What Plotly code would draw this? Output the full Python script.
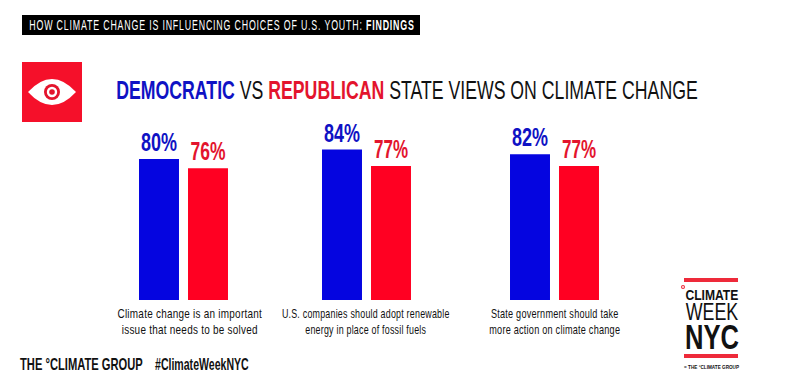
import json
import plotly.graph_objects as go

W, H = 795, 388
PARTIES = ["Democratic", "Republican"]
DEMOCRATIC = [80, 84, 82]
REPUBLICAN = [76, 77, 77]
STATEMENTS = [
    "Climate change is an important<br>issue that needs to be solved",
    "U.S. companies should adopt renewable<br>energy in place of fossil fuels",
    "State government should take<br>more action on climate change",
]
BLUE, RED = "#0505e0", "#ff0022"
TXT_BLUE, TXT_RED = "#0f12c4", "#e3142d"
FONT = "Liberation Sans, sans-serif"

def px(x): return x / W
def py(y): return 1 - y / H

PANELS = [(134.5, 232.5), (317.5, 415.5), (505.5, 603.5)]
Y_BOTTOM, Y_TOP = 300, 130
Y_RANGE = [20, 92.3]

fig = go.Figure()
layout_axes = {}
for i, (dem, rep) in enumerate(zip(DEMOCRATIC, REPUBLICAN)):
    suffix = "" if i == 0 else str(i + 1)
    fig.add_bar(
        x=PARTIES, y=[dem, rep], xaxis=f"x{suffix}", yaxis=f"y{suffix}",
        marker=dict(color=[BLUE, RED], line_width=0),
        text=[f"{dem}%", f"{rep}%"], textposition="outside", cliponaxis=False, constraintext="none",
        textfont=dict(family=FONT, size=25, color=[TXT_BLUE, TXT_RED], weight="bold"),
        showlegend=False, hoverinfo="skip",
    )
    a, b = PANELS[i]
    layout_axes[f"xaxis{suffix}"] = dict(domain=[px(a), px(b)], anchor=f"y{suffix}", visible=False,
                                         type="category", range=[-0.5, 1.5], fixedrange=True)
    layout_axes[f"yaxis{suffix}"] = dict(domain=[py(Y_BOTTOM), py(Y_TOP)], anchor=f"x{suffix}", visible=False,
                                         range=Y_RANGE, fixedrange=True)

def rect(x0, y0, x1, y1, color):
    return dict(type="rect", xref="paper", yref="paper", x0=px(x0), x1=px(x1), y0=py(y0), y1=py(y1),
                fillcolor=color, line_width=0, layer="below")

def circle(cx, cy, r, color):
    return dict(type="circle", xref="paper", yref="paper", x0=px(cx - r), x1=px(cx + r),
                y0=py(cy - r), y1=py(cy + r), fillcolor=color, line_width=0, layer="below")

def eye(cx, cy, hw, hh):
    pts = lambda x, y: f"{px(x):.4f},{py(y):.4f}"
    d = (f"M {pts(cx-hw, cy)} Q {pts(cx, cy-2*hh)} {pts(cx+hw, cy)} "
         f"Q {pts(cx, cy+2*hh)} {pts(cx-hw, cy)} Z")
    return dict(type="path", xref="paper", yref="paper", path=d, fillcolor="white", line_width=0, layer="below")

shapes = [
    rect(22, 15, 420, 35, "#000000"),
    rect(22, 62, 82, 122, "#f5102a"),
    eye(52, 92, 24, 13),
    circle(52, 92, 8, "#e3142d"), circle(52, 92, 5.2, "white"), circle(52, 92, 2.8, "#e3142d"),
    rect(684, 278, 738, 282, "#ee2a3a"),
    rect(684, 354, 738, 358, "#ee2a3a"),
    circle(683, 287, 2, "#ee2a3a"), circle(683, 287, 0.9, "white"),
]

def note(x, y, text, size, color="#111", anchor="center"):
    return dict(x=px(x), y=py(y), xref="paper", yref="paper", text=text, showarrow=False, xanchor=anchor,
                yanchor="middle", align="center", font=dict(family=FONT, size=size, color=color))

annotations = [
    note(27, 25.5, "HOW CLIMATE CHANGE IS INFLUENCING CHOICES OF U.S. YOUTH: <b>FINDINGS</b>", 14, "white", "left"),
    note(114, 90, f"<b><span style='color:{TXT_BLUE}'>DEMOCRATIC</span></b> VS "
                  f"<b><span style='color:{TXT_RED}'>REPUBLICAN</span></b> STATE VIEWS ON CLIMATE CHANGE",
         26.5, "#111", "left"),
    note(190, 322, STATEMENTS[0], 12),
    note(366, 322, STATEMENTS[1], 12),
    note(555, 322, STATEMENTS[2], 12),
    note(18, 364, "<b>THE °CLIMATE GROUP</b>", 16, "#111", "left"),
    note(153, 364, "<b>#ClimateWeekNYC</b>", 16, "#111", "left"),
    note(711.5, 294, "<b>CLIMATE</b>", 15.5),
    note(711.5, 312, "WEEK", 23),
    note(711.5, 336, "<b>NYC</b>", 35),
    note(711.5, 367, "<b>= THE °CLIMATE GROUP</b>", 6),
]

# text -> [target pixel width, letter spacing, pinned at left edge]: the reference's type is condensed
FIT = {
    "HOW CLIMATE": [386, 1.3, 1], "DEMOCRATIC": [582, 0, 1],
    "Climate change": [145, 0.3, 0], "U.S. companies": [168, 0.3, 0], "State government": [131, 0.3, 0],
    "THE °CLIMATE": [123, 0, 1], "#Climate": [94, 0, 1],
    "CLIMATE": [53, 0, 0], "WEEK": [53, 0, 0], "NYC": [54, 0, 0], "= THE": [55, 0, 0],
    "80%": [36, 0, 0], "76%": [35, 0, 0], "84%": [36, 0, 0], "77%": [34, 0, 0], "82%": [36, 0, 0],
}
POST = """
document.body.style.margin = '0';
document.body.style.overflow = 'hidden';
var FIT = %s;
document.querySelectorAll('.annotation-text, .bartext').forEach(function (el) {
  var s = el.textContent, key = null;
  Object.keys(FIT).forEach(function (k) { if (s.indexOf(k) === 0 && (!key || k.length > key.length)) key = k; });
  if (!key) return;
  var left0 = el.getBBox().x;
  if (FIT[key][1]) el.style.letterSpacing = FIT[key][1] + 'px';
  var b = el.getBBox();
  var ox = FIT[key][2] ? b.x : b.x + b.width / 2;
  var sx = FIT[key][0] / b.width;
  var shift = FIT[key][2] ? left0 - b.x : 0;
  var t = el.getAttribute('transform') || '';
  el.setAttribute('transform', t + ' translate(' + (ox + shift) + ',0) scale(' + sx + ',1) translate(' + (-ox) + ',0)');
});
""" % json.dumps(FIT, ensure_ascii=False)

fig.update_layout(width=W, height=H, margin=dict(l=0, r=0, t=0, b=0), autosize=False,
                  paper_bgcolor="white", plot_bgcolor="rgba(0,0,0,0)", bargap=0.184,
                  shapes=shapes, annotations=annotations, **layout_axes)
fig.write_html("out.html", config={"displayModeBar": False}, post_script=POST)
